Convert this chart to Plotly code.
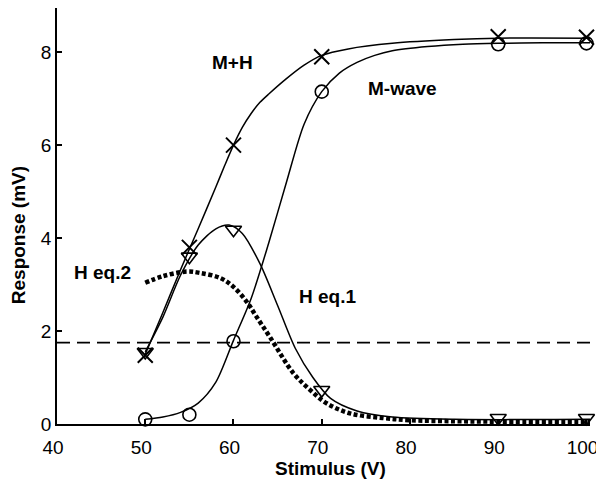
import plotly.graph_objects as go

# Measured points
stim = [50, 55, 60, 70, 90, 100]
m_wave = [0.1, 0.2, 1.78, 7.15, 8.17, 8.19]
m_plus_h = [1.48, 3.8, 6.0, 7.9, 8.33, 8.32]
h_eq1_pts = [1.55, 3.6, 4.18, 0.73, 0.13, 0.13]

# Fitted curves
m_fit_x = [50, 52, 54, 56, 58, 60, 62, 64, 66, 68, 70, 72, 74, 76, 78, 82, 86, 90, 95, 100.4]
m_fit_y = [0.1, 0.15, 0.25, 0.45, 0.9, 1.8, 2.7, 3.9, 5.2, 6.45, 7.15, 7.55, 7.78, 7.93, 8.03, 8.12, 8.17, 8.19, 8.2, 8.2]

mh_fit_x = [50, 52, 54, 56, 58, 59, 60, 61, 62, 63, 64, 66, 68, 70, 73, 78, 85, 90, 100.4]
mh_fit_y = [1.5, 2.4, 3.32, 4.2, 5.1, 5.56, 6.0, 6.38, 6.68, 6.92, 7.1, 7.43, 7.72, 7.93, 8.07, 8.19, 8.27, 8.3, 8.3]

h1_fit_x = [50, 52, 54, 56, 58, 59.5, 61, 63, 65, 67, 69, 71, 74, 78, 85, 100.4]
h1_fit_y = [1.55, 2.3, 3.2, 3.85, 4.2, 4.28, 4.1, 3.45, 2.55, 1.63, 1.0, 0.55, 0.28, 0.15, 0.1, 0.1]

h2_x = [50, 52, 54.7, 56.2, 58.5, 60, 61.5, 62.6, 64.2, 66.8, 68.7, 70.6, 73.2, 76.9, 80, 85, 90, 100.4]
h2_y = [3.04, 3.18, 3.28, 3.25, 3.14, 2.95, 2.63, 2.31, 1.85, 1.09, 0.73, 0.44, 0.23, 0.13, 0.08, 0.06, 0.05, 0.05]

threshold = 1.75

x_ticks = [40, 50, 60, 70, 80, 90, 100]
y_ticks = [0, 2, 4, 6, 8]

labels = [("M+H", 59.9, 7.78), ("M-wave", 79.1, 7.22), ("H eq.2", 45.1, 3.25), ("H eq.1", 70.6, 2.74)]

FONT = "Liberation Sans, Arial, sans-serif"
fig = go.Figure()

line = dict(color="black", width=1.5, shape="spline", smoothing=0.8)
fig.add_trace(go.Scatter(x=h2_x, y=h2_y, mode="lines",
                         line=dict(color="black", width=4.5, dash="4px,2.5px", shape="spline")))
fig.add_trace(go.Scatter(x=m_fit_x, y=m_fit_y, mode="lines", line=line))
fig.add_trace(go.Scatter(x=mh_fit_x, y=mh_fit_y, mode="lines", line=line))
fig.add_trace(go.Scatter(x=h1_fit_x, y=h1_fit_y, mode="lines", line=line))

fig.add_trace(go.Scatter(x=stim, y=m_wave, mode="markers", cliponaxis=False,
                         marker=dict(symbol="circle-open", size=13, color="black", line=dict(width=1.6))))
fig.add_trace(go.Scatter(x=stim, y=m_plus_h, mode="markers", cliponaxis=False,
                         marker=dict(symbol="x-thin-open", size=15, color="black", line=dict(width=2))))
fig.add_trace(go.Scatter(x=stim, y=h_eq1_pts, mode="markers", cliponaxis=False,
                         marker=dict(symbol="triangle-down-open", size=14, color="black", line=dict(width=1.6))))

fig.add_shape(type="line", xref="paper", yref="y", x0=0, x1=1.013, y0=threshold, y1=threshold,
              line=dict(color="black", width=1.6, dash="13px,7px"))

for text, x, y in labels:
    fig.add_annotation(x=x, y=y, text="<b>" + text + "</b>", showarrow=False,
                       xanchor="center", yanchor="middle",
                       font=dict(family=FONT, size=19, color="black"))

# axis titles as annotations for exact placement
fig.add_annotation(xref="paper", yref="paper", x=0.514, y=-0.106, text="<b>Stimulus (V)</b>",
                   xanchor="center", yanchor="middle",
                   showarrow=False, font=dict(family=FONT, size=19, color="black"))
fig.add_annotation(xref="paper", yref="paper", x=-0.073, y=0.454, text="<b>Response (mV)</b>",
                   xanchor="center", yanchor="middle",
                   textangle=-90, showarrow=False, font=dict(family=FONT, size=19, color="black"))

# page has an 8px body margin, so the figure is sized to fill the rest of the window
fig.update_layout(
    width=596, height=479,
    margin=dict(l=49, r=14, t=0, b=63, autoexpand=False),
    paper_bgcolor="white", plot_bgcolor="white",
    showlegend=False,
    font=dict(family=FONT, size=19, color="black"),
)
fig.update_xaxes(range=[40, 100.4], tickvals=x_ticks, ticks="inside", ticklen=5, tickwidth=1.5,
                 tickcolor="black", showline=True, linecolor="black", linewidth=1.8,
                 showgrid=False, zeroline=False, automargin=False,
                 ticklabelstandoff=5, ticklabelshift=-4,
                 tickprefix="<b>", ticksuffix="</b>",
                 tickfont=dict(family=FONT, size=19, color="black"))
fig.update_yaxes(range=[0, 8.95], tickvals=y_ticks, ticks="inside", ticklen=5, tickwidth=1.5,
                 tickcolor="black", showline=True, linecolor="black", linewidth=1.8,
                 showgrid=False, zeroline=False, automargin=False,
                 tickprefix="<b>", ticksuffix="</b>",
                 tickfont=dict(family=FONT, size=19, color="black"))

fig.write_html("out.html")
